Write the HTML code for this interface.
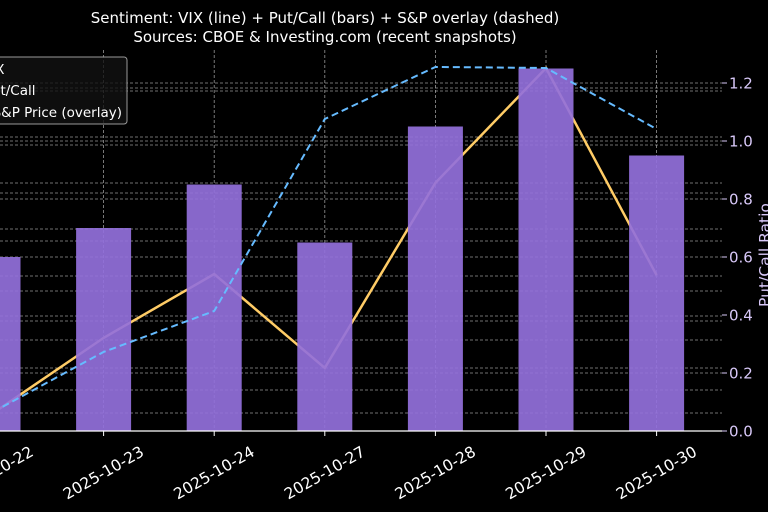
<!DOCTYPE html>
<html><head><meta charset="utf-8"><style>
html,body{margin:0;padding:0;background:#000;}
svg{display:block;font-family:"DejaVu Sans","Liberation Sans",sans-serif;}
</style></head><body>
<svg id="chart" width="768" height="512" viewBox="0 0 768 512" xmlns="http://www.w3.org/2000/svg">
<rect width="768" height="512" fill="#000"/>
<text x="325" y="23" fill="#fff" font-size="15" text-anchor="middle">Sentiment: VIX (line) + Put/Call (bars) + S&amp;P overlay (dashed)</text>
<text x="325" y="42" fill="#fff" font-size="15" text-anchor="middle">Sources: CBOE &amp; Investing.com (recent snapshots)</text>
<g id="grid"></g>
<g id="marks"></g>
<g id="axes"></g>
<g>
<rect x="-10" y="57" width="137" height="67" rx="3" fill="#111" fill-opacity="0.8" stroke="#999" stroke-width="1"/>
<text x="-18" y="74" fill="#fff" font-size="13.5">VIX</text>
<text x="-16" y="95" fill="#fff" font-size="13.5">Put/Call</text>
<text x="122" y="117" fill="#fff" font-size="13.5" text-anchor="end">S&amp;P Price (overlay)</text>
</g>
</svg>
<script>
const categories = ["2025-10-22","2025-10-23","2025-10-24","2025-10-27","2025-10-28","2025-10-29","2025-10-30"];
const putCall = [0.60,0.70,0.85,0.65,1.05,1.25,0.95];
const vix = [16.47,18.45,20.13,17.66,22.53,25.55,20.10];
const spPrice = [6652.7,6692.7,6720,6848,6882.7,6882,6841.3];
const pcTicks = [0.0,0.2,0.4,0.6,0.8,1.0,1.2];
const pcTickLabels = ["0.0","0.2","0.4","0.6","0.8","1.0","1.2"];

const NS = "http://www.w3.org/2000/svg";
const plotTop = 50, plotBottom = 431, plotRight = 722;
function xPos(i){ return -7 + i*110.6; }
function yPC(v){ return 431 - v*290; }
function yVIX(v){ return 431 - (v-16)*38; }
function ySP(v){ return 431 - (v-6640)*1.5; }
function mk(tag, attrs, parent){ const e=document.createElementNS(NS,tag); for(const k in attrs) e.setAttribute(k,attrs[k]); parent.appendChild(e); return e; }

const grid = document.getElementById('grid');
const marks = document.getElementById('marks');
const axes = document.getElementById('axes');

const gridYs = [83,88,91,137,141,145,183,193,199,229,241,257,276,291,316,321,340,368,373,390,413];
gridYs.forEach(y=>{
  const l = mk('line',{x1:0,x2:plotRight,y1:y,y2:y,stroke:'#bbb','stroke-width':0.8,'stroke-dasharray':'3,2','stroke-opacity':0.8},grid);
  
  
});
categories.forEach((c,i)=>{
  const l = mk('line',{x1:xPos(i),x2:xPos(i),y1:plotTop,y2:plotBottom,stroke:'#bbb','stroke-width':0.8,'stroke-dasharray':'3,2','stroke-opacity':0.8},grid);
  
  
});

const vixPts = vix.map((v,i)=>xPos(i)+','+yVIX(v)).join(' ');
const vl = mk('polyline',{points:vixPts,fill:'none',stroke:'#ffcc66','stroke-width':2.5},marks);



putCall.forEach((v,i)=>{
  const b = mk('rect',{x:xPos(i)-27.5,y:yPC(v),width:55,height:plotBottom-yPC(v),fill:'#9370db','fill-opacity':0.92},marks);
  
  
});

const spPts = spPrice.map((v,i)=>xPos(i)+','+ySP(v)).join(' ');
const sl = mk('polyline',{points:spPts,fill:'none',stroke:'#66bbff','stroke-width':2,'stroke-dasharray':'7,4'},marks);



const xa = mk('line',{x1:0,x2:plotRight,y1:plotBottom,y2:plotBottom,stroke:'#fff','stroke-width':1.2},axes);


categories.forEach((c,i)=>{
  const x = xPos(i);
  const t = mk('line',{x1:x,x2:x,y1:plotBottom,y2:plotBottom+5,stroke:'#fff'},axes);
  
  
  const cy = 473;
  const tx = mk('text',{x:x,y:cy+5,fill:'#fff','font-size':15.5,'text-anchor':'middle',transform:`rotate(-30 ${x} ${cy})`},axes);
  tx.textContent = c;
  
  
});
pcTicks.forEach((v,i)=>{
  const y = yPC(v);
  const t = mk('line',{x1:plotRight,x2:plotRight+5,y1:y,y2:y,stroke:'#d8c8f8'},axes);
  
  
  const tx = mk('text',{x:plotRight+7,y:y+5.5,fill:'#d8c8f8','font-size':15},axes);
  tx.textContent = pcTickLabels[i];
  
  
});
const yl = mk('text',{x:770,y:255,fill:'#d8c8f8','font-size':15.5,'text-anchor':'middle',transform:'rotate(-90 770 255)'},axes);
yl.textContent = 'Put/Call Ratio';


</script>
</body></html>
